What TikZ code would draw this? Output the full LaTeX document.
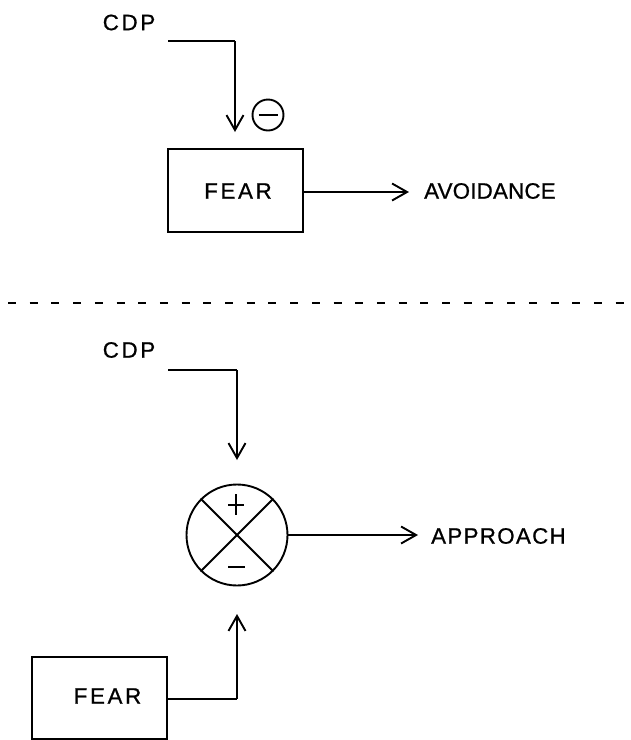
\documentclass[tikz,border=0pt]{standalone}
\usepackage{fontspec}
\setmainfont{Liberation Sans}
\newfontfamily\wideA[LetterSpace=12,FakeBold=0.8]{Liberation Sans}
\newfontfamily\wideB[LetterSpace=1,FakeBold=0.8]{Liberation Sans}
\newfontfamily\wideC[LetterSpace=6,FakeBold=0.8]{Liberation Sans}
\usetikzlibrary{arrows.meta}
\begin{document}
\begin{tikzpicture}[x=1pt,y=-1pt,
  ln/.style={line width=1.9pt},
  arr/.style={ln,-{Straight Barb[length=15pt,width=17pt,line width=1.9pt]}},
  blk/.style={draw,line width=1.9pt,inner sep=0pt},
  lblw/.style={font=\wideA\fontsize{22.3}{26}\selectfont,inner sep=0pt},
  lbl/.style={font=\wideB\fontsize{22.3}{26}\selectfont,inner sep=0pt,anchor=west},
  lblc/.style={font=\wideC\fontsize{22.3}{26}\selectfont,inner sep=0pt,anchor=west}]
\useasboundingbox (0,0) rectangle (631,740);
% top part
\node[lblw] (cdp1) at (129,22.5) {CDP};
\coordinate (c1) at (168,41);
\coordinate (k1) at (235,41);
\node[blk,minimum width=135pt,minimum height=83pt] (fear1) at (235.5,190.5) {};
\node[lblw] at (238,191) {FEAR};
\draw[ln] (c1) -- (k1);
\draw[arr] (k1) -- (235,132);
\node[draw,circle,line width=1.9pt,minimum size=31pt,inner sep=0pt] (neg) at (268,115) {};
\draw[ln] ([xshift=-9.5pt]neg.center) -- ([xshift=9.5pt]neg.center);
\node[lbl] (avoid) at (424,191) {AVOIDANCE};
\coordinate (a1) at (409,192);
\draw[arr] (fear1.east |- a1) -- (a1);
% dashed separator
\coordinate (d1) at (8,303);
\coordinate (d2) at (631,303);
\draw[line width=2.2pt,dash pattern=on 8pt off 13.7pt] (d1) -- (d2);
% bottom part
\node[lblw] (cdp2) at (129,350) {CDP};
\coordinate (c2) at (168,370);
\coordinate (k2) at (237,370);
\draw[ln] (c2) -- (k2);
\node[draw,circle,line width=1.9pt,minimum size=101pt,inner sep=0pt] (sum) at (237,535) {};
\draw[arr] (k2) -- (237,460);
\draw[ln] (sum.north west) -- (sum.south east);
\draw[ln] (sum.north east) -- (sum.south west);
\draw[ln] (228,505) -- (244,505);
\draw[ln] (236,494) -- (236,515);
\draw[ln] (228,567) -- (245,567);
\node[lblc] (appr) at (431,536) {APPROACH};
\coordinate (a2) at (418,535);
\draw[arr] (sum.east) -- (a2);
\node[blk,minimum width=135pt,minimum height=82pt] (fear2) at (99.5,698) {};
\node[lblw] at (107.5,696) {FEAR};
\coordinate (k3) at (237,699);
\draw[ln] (fear2.east |- k3) -- (k3);
\draw[arr] (k3) -- (237,614);
\end{tikzpicture}
\end{document}
